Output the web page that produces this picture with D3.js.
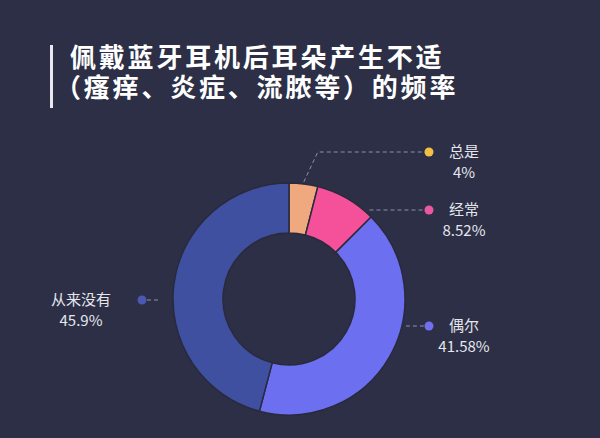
<!DOCTYPE html>
<html>
<head>
<meta charset="utf-8">
<script src="https://cdn.jsdelivr.net/npm/d3@7"></script>
<style>
  html, body { margin: 0; padding: 0; background: #2c2f45; }
  svg { display: block; font-family: "Noto Sans CJK SC", "Noto Sans", sans-serif; }
</style>
</head>
<body>
<svg id="chart" width="600" height="438"></svg>
<script>
// chart data
const categories = ["总是", "经常", "偶尔", "从来没有"];
const values = [4, 8.52, 41.58, 45.9];
const valueLabels = ["4%", "8.52%", "41.58%", "45.9%"];
const sliceColors = ["#f0a87f", "#f4519a", "#6c6ff0", "#3f50a0"];
const dotColors = ["#f2c046", "#ea58a0", "#6f70ef", "#4b58b2"];
const titleLines = ["佩戴蓝牙耳机后耳朵产生不适", "（瘙痒、炎症、流脓等）的频率"];

// label rows (layout only)
const labelY = [152, 210, 326, 300];

const svg = d3.select("#chart");
const width = 600, height = 438;
const cx = 289, cy = 299, outerR = 116, innerR = 66;

svg.append("rect").attr("width", width).attr("height", height).attr("fill", "#2c2f45");

// title with the bar on the left
svg.append("rect")
    .attr("x", 50).attr("y", 45)
    .attr("width", 3).attr("height", 63)
    .attr("fill", "#e8e8ee");

const title = svg.append("text")
    .attr("fill", "#ffffff")
    .attr("font-size", 26)
    .attr("font-weight", "bold")
    .attr("letter-spacing", 2.8);
title.selectAll("tspan")
    .data(titleLines)
    .enter()
    .append("tspan")
    .attr("x", (d, i) => i === 0 ? 70 : 55)
    .attr("y", (d, i) => 67 + i * 30)
    .text(d => d);

const pie = d3.pie().value(d => d).sort(null);
const arcs = pie(values);

const arc = d3.arc().innerRadius(innerR).outerRadius(outerR);

const g = svg.append("g");

// leader lines go under the slices
arcs.forEach((a, i) => {
    const mid = (a.startAngle + a.endAngle) / 2;
    const sx = cx + (outerR + 2) * Math.sin(mid);
    const sy = cy - (outerR + 2) * Math.cos(mid);
    const ly = labelY[i];
    const right = Math.sin(mid) >= 0;
    const dy = ly - cy;
    const reach = Math.sqrt(Math.max(0, (outerR + 4) * (outerR + 4) - dy * dy));
    let bx;
    if (right) bx = Math.max(cx + reach, sx + 14);
    else bx = Math.min(cx - reach, sx - 14);
    const ex = right ? 425 : 147;
    // labels beside the ring only get the flat part
    const pts = Math.abs(dy) < outerR + 4 ? [[bx, ly], [ex, ly]] : [[sx, sy], [bx, ly], [ex, ly]];
    g.append("polyline")
        .attr("points", pts.map(p => p.join(",")).join(" "))
        .attr("fill", "none")
        .attr("stroke", "#8c90aa")
        .attr("stroke-width", 1)
        .attr("stroke-dasharray", "4,3");
});

g.selectAll(".slice")
    .data(arcs)
    .enter()
    .append("path")
    .attr("class", "slice")
    .attr("transform", `translate(${cx},${cy})`)
    .attr("d", arc)
    .attr("fill", (d, i) => sliceColors[i])
    .attr("stroke", "#2a2a3e")
    .attr("stroke-width", 1.5);

// legend dots and labels
arcs.forEach((a, i) => {
    const mid = (a.startAngle + a.endAngle) / 2;
    const right = Math.sin(mid) >= 0;
    const ly = labelY[i];
    const dotX = right ? 429 : 142;
    const textX = right ? 464 : 81;
    g.append("circle")
        .attr("cx", dotX).attr("cy", ly).attr("r", 4.5)
        .attr("fill", dotColors[i]);
    g.append("text")
        .attr("x", textX).attr("y", ly + 5)
        .attr("text-anchor", "middle")
        .attr("fill", "#e6e6ee")
        .attr("font-size", 15)
        .text(categories[i]);
    g.append("text")
        .attr("x", textX).attr("y", ly + 26)
        .attr("text-anchor", "middle")
        .attr("fill", "#e6e6ee")
        .attr("font-size", 15)
        .text(valueLabels[i]);
});
</script>
</body>
</html>
